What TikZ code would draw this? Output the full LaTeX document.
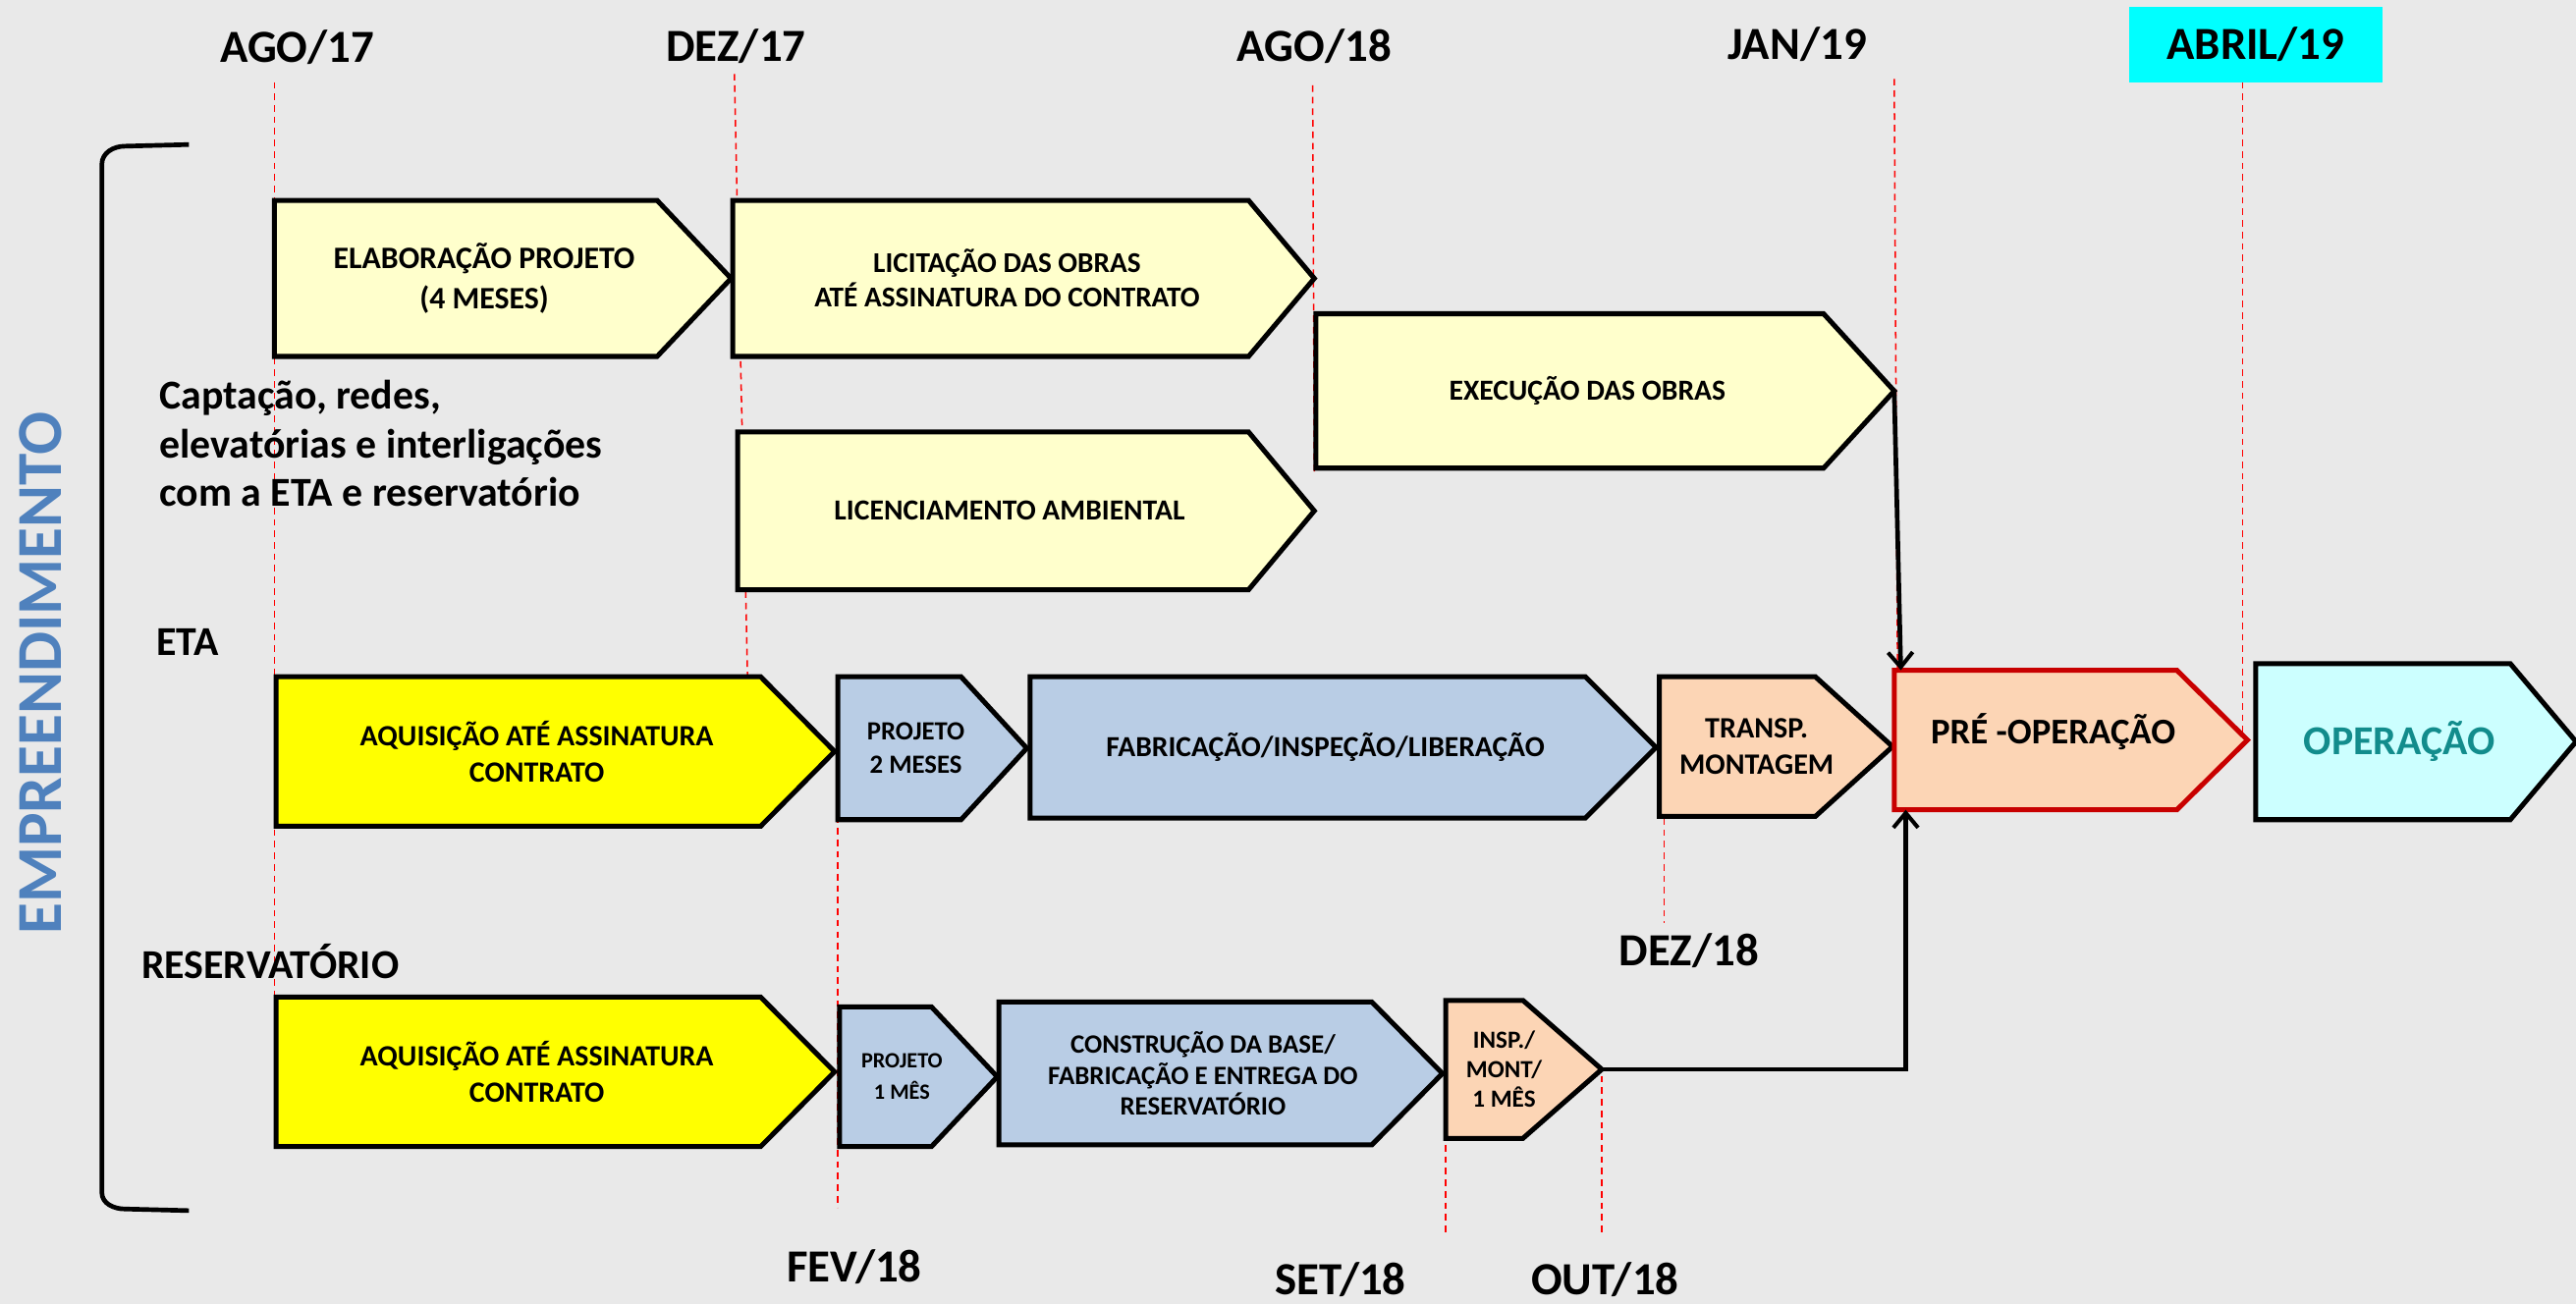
\documentclass[tikz,border=0pt]{standalone}
\usepackage{fontspec}
\setmainfont{Carlito}
\usetikzlibrary{arrows.meta}
\definecolor{bg}{RGB}{233,233,233}
\definecolor{ly}{RGB}{255,255,204}
\definecolor{yy}{RGB}{255,255,0}
\definecolor{bl}{RGB}{185,205,229}
\definecolor{pc}{RGB}{252,213,181}
\definecolor{cy}{RGB}{204,255,255}
\definecolor{cyb}{RGB}{0,255,255}
\definecolor{rd}{RGB}{200,0,0}
\definecolor{tl}{RGB}{18,140,140}
\definecolor{eb}{RGB}{79,129,189}
\newcommand\fs[2]{\fontsize{#1}{#2}\selectfont\bfseries}
\newcommand{\chev}[9]{%
  \draw[boxline,#2] (#3,#6) -- (#4,#6) -- (#5,{(#6+#7)/2}) -- (#4,#7) -- (#3,#7) -- cycle;
  \node[boxtext,#8] (#1) at ({(#3+(#4+#5)/2)/2},{(#6+#7)/2}) {#9};
  \coordinate (#1-tip) at (#5,{(#6+#7)/2});
}
\tikzset{
  boxline/.style={draw=black,line width=3pt,line join=miter},
  boxtext/.style={align=center,inner sep=0pt},
  guide/.style={draw=red,line width=0.9pt,dash pattern=on 4pt off 3pt},
  datelbl/.style={font=\fs{28}{30},inner sep=0pt},
  conn/.style={draw=black,line width=2.8pt,-{Straight Barb[length=9pt,width=15pt,line width=2.4pt]}},
}
\begin{document}
\begin{tikzpicture}[x=1pt,y=-1pt]
\fill[bg] (0,0) rectangle (1568,794);
\useasboundingbox (0,0) rectangle (1568,794);
% guide lines
\draw[guide] (167,50) -- (167,610);
\draw[guide] (447,45) -- (455,412);
\draw[guide] (799,52) -- (800,288);
\draw[guide] (1153,48) -- (1155,408);
\draw[guide] (1365,50) -- (1365,452);
\draw[guide] (510,413) -- (510,735);
\draw[guide] (1013,498) -- (1013,562);
\draw[guide] (880,690) -- (880,752);
\draw[guide] (975,655) -- (975,752);
% date labels
\node[datelbl] (d1) at (181,29) {AGO/17};
\node[datelbl] (d2) at (448,28) {DEZ/17};
\node[datelbl] (d3) at (800,28) {AGO/18};
\node[datelbl] (d4) at (1094,27) {JAN/19};
\fill[cyb] (1296,4) rectangle (1450,50);
\node[datelbl] (d5) at (1373,27) {ABRIL/19};
\node[datelbl] (d6) at (520,771) {FEV/18};
\node[datelbl] (d7) at (816,779) {SET/18};
\node[datelbl] (d8) at (977,779) {OUT/18};
\node[datelbl] (d9) at (1028,579) {DEZ/18};
% bracket
\draw[line width=2.8pt] (115,88) -- (76,89) to[out=180,in=90] (62,100) -- (62,726) to[out=-90,in=180] (76,736) -- (115,737);
\node[rotate=90,text=eb,inner sep=0pt,font=\fs{39}{40}] (emp) at (25,410) {EMPREENDIMENTO};
% side texts
\node[anchor=west,align=left,inner sep=0pt,font=\fs{25}{29.5}] (capt) at (97,270) {Captação, redes,\\elevatórias e interligações\\com a ETA e reservatório};
\node[anchor=west,inner sep=0pt,font=\fs{25}{26}] (eta) at (95,391) {ETA};
\node[anchor=west,inner sep=0pt,font=\fs{25}{26}] (res) at (86,585) {RESERVATÓRIO};
% row 1
\chev{elab}{fill=ly}{167}{400}{445}{122}{217}{font=\fs{19}{24}}{ELABORAÇÃO PROJETO\\(4 MESES)}
\chev{lic}{fill=ly}{446}{760}{800}{122}{217}{font=\fs{17.5}{21}}{LICITAÇÃO DAS OBRAS\\ATÉ ASSINATURA DO CONTRATO}
\chev{exe}{fill=ly}{801}{1110}{1153}{191}{285}{font=\fs{17.7}{20}}{EXECUÇÃO DAS OBRAS}
\chev{licamb}{fill=ly}{449}{760}{800}{263}{359}{font=\fs{17.7}{20}}{LICENCIAMENTO AMBIENTAL}
% ETA row
\chev{aq1}{fill=yy}{168}{463}{508}{412}{503}{font=\fs{17.9}{22}}{AQUISIÇÃO ATÉ ASSINATURA\\CONTRATO}
\chev{proj2}{fill=bl}{510}{585}{625}{412}{499}{font=\fs{16}{20}}{PROJETO\\2 MESES}
\chev{fab}{fill=bl}{627}{965}{1008}{412}{498}{font=\fs{17.7}{20}}{FABRICAÇÃO/INSPEÇÃO/LIBERAÇÃO}
\chev{transp}{fill=pc}{1010}{1105}{1152}{412}{497}{font=\fs{18}{22}}{TRANSP.\\MONTAGEM}
\chev{pre}{fill=pc,draw=rd}{1153}{1325}{1368}{408}{493}{font=\fs{22}{24},yshift=5pt}{PRÉ -OPERAÇÃO}
\chev{op}{fill=cy}{1373}{1528}{1568}{404}{499}{font=\fs{25}{27},text=tl}{OPERAÇÃO}
% reservatorio row
\chev{aq2}{fill=yy}{168}{463}{508}{607}{698}{font=\fs{17.9}{22}}{AQUISIÇÃO ATÉ ASSINATURA\\CONTRATO}
\chev{proj1}{fill=bl}{511}{567}{607}{613}{698}{font=\fs{13.3}{19}}{PROJETO\\1 MÊS}
\chev{constr}{fill=bl}{608}{835}{878}{610}{697}{font=\fs{16.1}{19}}{CONSTRUÇÃO DA BASE/\\FABRICAÇÃO E ENTREGA DO\\RESERVATÓRIO}
\chev{insp}{fill=pc}{880}{927}{975}{609}{693}{font=\fs{15}{18}}{INSP./\\MONT/\\1 MÊS}
% connectors
\coordinate (preTop) at (1157,408);
\coordinate (preBot) at (1160,493);
\draw[conn] (exe-tip) -- (preTop);
\draw[conn] (insp-tip) -| (preBot);
\end{tikzpicture}
\end{document}
